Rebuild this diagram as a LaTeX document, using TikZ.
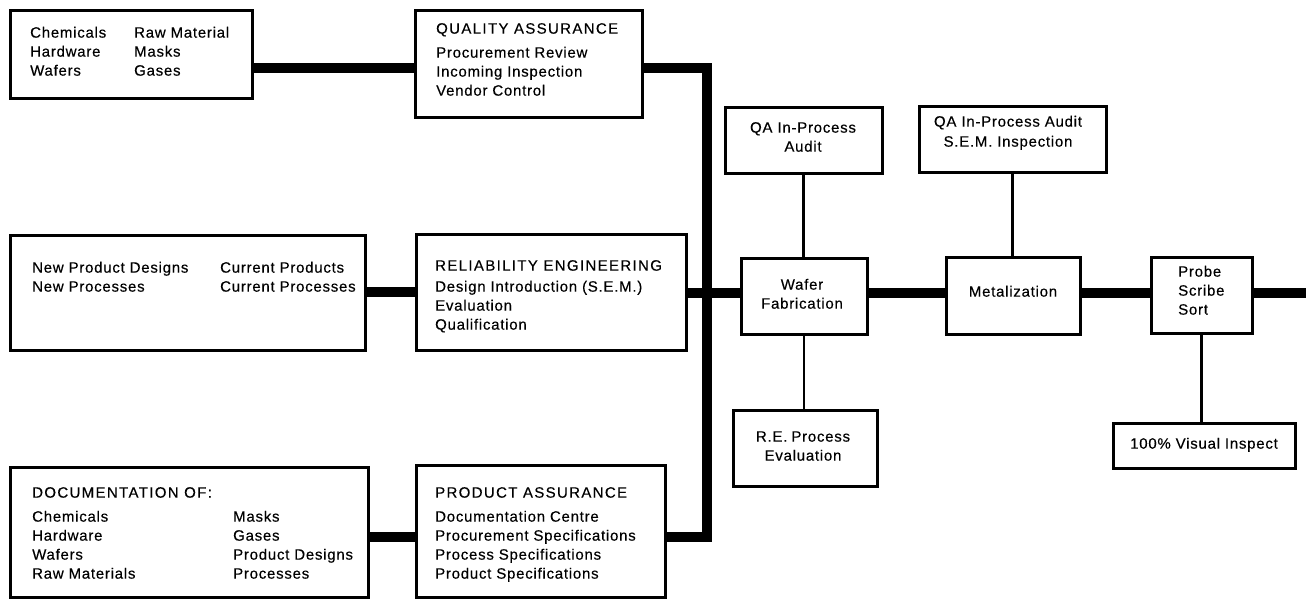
\documentclass[tikz,border=0pt]{standalone}
\usepackage{fontspec}
\setmainfont{Liberation Sans}[LetterSpace=5,FakeBold=0.3]
\newfontfamily\ttlfont{Liberation Sans}[LetterSpace=9,FakeBold=0.3]
\begin{document}
\begin{tikzpicture}[x=1pt,y=-1pt,
  box/.style={draw, line width=3pt, fill=white, inner sep=0pt},
  txt/.style={inner sep=0pt, font=\fontsize{15}{18}\selectfont},
  ttl/.style={inner sep=0pt, font=\ttlfont\fontsize{15}{18}\selectfont},
  heavy/.style={line width=10pt},
  thinline/.style={line width=2.6pt}]
\useasboundingbox (0,0) rectangle (1312,600);

% ---------- boxes ----------
\node[box, minimum width=242pt, minimum height=88pt]  (mat)    at (131,54) {};
\node[box, minimum width=227pt, minimum height=107pt] (qa)     at (528.5,63.5) {};
\node[box, minimum width=355pt, minimum height=115pt] (dev)    at (187.5,292.5) {};
\node[box, minimum width=270pt, minimum height=116pt] (re)     at (551,292) {};
\node[box, minimum width=358pt, minimum height=130pt] (doc)    at (189,532) {};
\node[box, minimum width=249pt, minimum height=132pt] (pa)     at (540.5,531) {};
\node[box, minimum width=157pt, minimum height=66pt]  (qaip)   at (803.5,140) {};
\node[box, minimum width=187pt, minimum height=66pt]  (semaud) at (1012.5,139) {};
\node[box, minimum width=126pt, minimum height=76pt]  (wafer)  at (804,296) {};
\node[box, minimum width=134pt, minimum height=77pt]  (metal)  at (1013,295.5) {};
\node[box, minimum width=101pt, minimum height=76pt]  (probe)  at (1201.5,295) {};
\node[box, minimum width=144pt, minimum height=76pt]  (reproc) at (805,448) {};
\node[box, minimum width=182pt, minimum height=45pt]  (visual) at (1204,445.5) {};

% ---------- texts ----------
% materials
\node[txt, anchor=mid west] (mat1) at (30,35) {Chemicals};
\node[txt, anchor=mid west] (mat2) at (30,54) {Hardware};
\node[txt, anchor=mid west] (mat3) at (30,73) {Wafers};
\node[txt, anchor=mid west] (mat4) at (134,35) {Raw Material};
\node[txt, anchor=mid west] (mat5) at (134,54) {Masks};
\node[txt, anchor=mid west] (mat6) at (134,73) {Gases};
% quality assurance
\node[ttl, anchor=mid west] (qa0) at (436,31) {QUALITY ASSURANCE};
\node[txt, anchor=mid west] (qa1) at (436,55) {Procurement Review};
\node[txt, anchor=mid west] (qa2) at (436,74) {Incoming Inspection};
\node[txt, anchor=mid west] (qa3) at (436,93) {Vendor Control};
% development
\node[txt, anchor=mid west] (dev1) at (32,270) {New Product Designs};
\node[txt, anchor=mid west] (dev2) at (32,289) {New Processes};
\node[txt, anchor=mid west] (dev3) at (220,270) {Current Products};
\node[txt, anchor=mid west] (dev4) at (220,289) {Current Processes};
% reliability engineering
\node[ttl, anchor=mid west] (re0) at (435,268) {RELIABILITY ENGINEERING};
\node[txt, anchor=mid west] (re1) at (435,289) {Design Introduction (S.E.M.)};
\node[txt, anchor=mid west] (re2) at (435,308) {Evaluation};
\node[txt, anchor=mid west] (re3) at (435,327) {Qualification};
% documentation
\node[ttl, anchor=mid west] (doc0) at (32,495) {DOCUMENTATION OF:};
\node[txt, anchor=mid west] (doc1) at (32,519) {Chemicals};
\node[txt, anchor=mid west] (doc2) at (32,538) {Hardware};
\node[txt, anchor=mid west] (doc3) at (32,557) {Wafers};
\node[txt, anchor=mid west] (doc4) at (32,576) {Raw Materials};
\node[txt, anchor=mid west] (doc5) at (233,519) {Masks};
\node[txt, anchor=mid west] (doc6) at (233,538) {Gases};
\node[txt, anchor=mid west] (doc7) at (233,557) {Product Designs};
\node[txt, anchor=mid west] (doc8) at (233,576) {Processes};
% product assurance
\node[ttl, anchor=mid west] (pa0) at (435,495) {PRODUCT ASSURANCE};
\node[txt, anchor=mid west] (pa1) at (435,519) {Documentation Centre};
\node[txt, anchor=mid west] (pa2) at (435,538) {Procurement Specifications};
\node[txt, anchor=mid west] (pa3) at (435,557) {Process Specifications};
\node[txt, anchor=mid west] (pa4) at (435,576) {Product Specifications};
% right side boxes
\node[txt, anchor=mid] (qaip1) at (803,130) {QA\hspace{5pt}In-Process};
\node[txt, anchor=mid] (qaip2) at (803,149) {Audit};
\node[txt, anchor=mid] (sem1) at (1008,124) {QA\hspace{5pt}In-Process Audit};
\node[txt, anchor=mid] (sem2) at (1008,144) {S.E.M. Inspection};
\node[txt, anchor=mid] (waf1) at (802,287) {Wafer};
\node[txt, anchor=mid] (waf2) at (802,306) {Fabrication};
\node[txt, anchor=mid] (met1) at (1013,294) {Metalization};
\node[txt, anchor=mid west] (prb1) at (1178,274) {Probe};
\node[txt, anchor=mid west] (prb2) at (1178,293) {Scribe};
\node[txt, anchor=mid west] (prb3) at (1178,312) {Sort};
\node[txt, anchor=mid] (rep1) at (803,439) {R.E.\hspace{4pt}Process};
\node[txt, anchor=mid] (rep2) at (803,458) {Evaluation};
\node[txt, anchor=mid] (vis1) at (1204,446) {100\% Visual Inspect};

% ---------- connectors ----------
\coordinate (bustop) at (707,68);
\coordinate (busbot) at (707,537);
\coordinate (mainend) at (1306,293);

\draw[heavy] (mat.east |- bustop) -- (qa.west |- bustop);
\draw[heavy] (qa.east |- bustop) -- (bustop) -- (busbot) -- (pa.east |- busbot);
\draw[heavy] (doc.east |- busbot) -- (pa.west |- busbot);
\draw[heavy] (dev.east |- 0,292) -- (re.west |- 0,292);
\draw[heavy] (re.east |- mainend) -- (wafer.west |- mainend);
\draw[heavy] (wafer.east |- mainend) -- (metal.west |- mainend);
\draw[heavy] (metal.east |- mainend) -- (probe.west |- mainend);
\draw[heavy] (probe.east |- mainend) -- (mainend);

\draw[thinline] (qaip.south) -- (qaip.south |- wafer.north);
\draw[thinline] (semaud.south) -- (semaud.south |- metal.north);
\draw[thinline] (wafer.south) -- (wafer.south |- reproc.north);
\draw[thinline] (probe.south) -- (probe.south |- visual.north);
\end{tikzpicture}
\end{document}
